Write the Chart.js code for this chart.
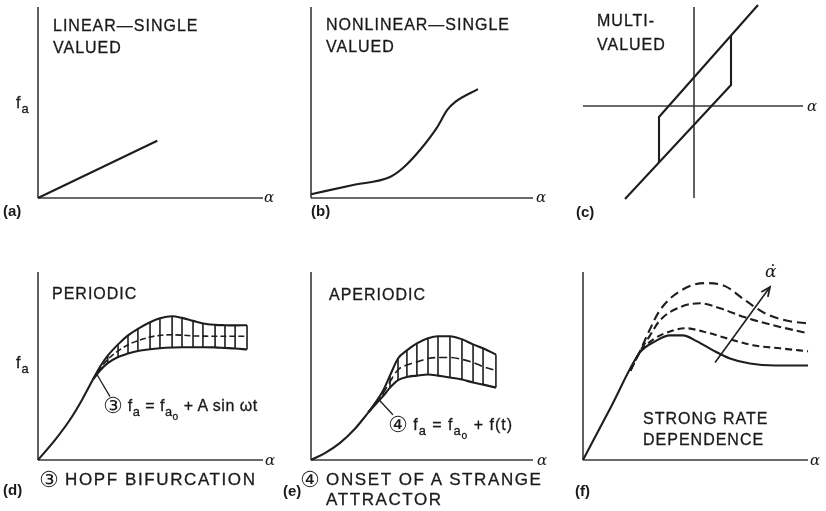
<!DOCTYPE html>
<html>
<head>
<meta charset="utf-8">
<script src="https://cdn.jsdelivr.net/npm/chart.js@4.4.1/dist/chart.umd.min.js"></script>
<style>
  html, body { margin: 0; padding: 0; background: #fff; }
  #fig { position: relative; width: 826px; height: 511px; overflow: hidden; background: #fff; }
  .panel { position: absolute; }
  .lbl { position: absolute; font-family: "Liberation Sans", Arial, sans-serif; font-size: 16px; line-height: 18px;
         color: #1a1a1a; letter-spacing: 1px; white-space: nowrap; -webkit-text-stroke: 0.3px #1a1a1a; }
  .cap { font-size: 17px; letter-spacing: 1.6px; }
  .eq { letter-spacing: 0.5px; }
  .tag { font-weight: bold; font-size: 15px; letter-spacing: 0; -webkit-text-stroke: 0; }
  .al { font-family: "DejaVu Serif", serif; font-style: italic; font-size: 15px; letter-spacing: 0; -webkit-text-stroke: 0; }
  .num { font-family: "DejaVu Sans", sans-serif; font-size: 22px; letter-spacing: 0; -webkit-text-stroke: 0; vertical-align: -2px; }
  sub { font-size: 0.8em; vertical-align: -0.4em; line-height: 0; }
</style>
</head>
<body>
<div id="fig">
  <!-- top row -->
  <div class="lbl" style="left:53px;top:17px">LINEAR—SINGLE</div>
  <div class="lbl" style="left:53px;top:39px">VALUED</div>
  <div class="lbl" style="left:16px;top:94px">f<sub>a</sub></div>
  <div class="lbl al" style="left:264px;top:188px">α</div>
  <div class="lbl tag" style="left:3px;top:202px">(a)</div>

  <div class="lbl" style="left:326px;top:16px">NONLINEAR—SINGLE</div>
  <div class="lbl" style="left:326px;top:38px">VALUED</div>
  <div class="lbl al" style="left:536px;top:188px">α</div>
  <div class="lbl tag" style="left:311px;top:202px">(b)</div>

  <div class="lbl" style="left:597px;top:12px">MULTI-</div>
  <div class="lbl" style="left:597px;top:36px">VALUED</div>
  <div class="lbl al" style="left:807px;top:97px">α</div>
  <div class="lbl tag" style="left:576px;top:203px">(c)</div>

  <!-- bottom row -->
  <div class="lbl" style="left:52px;top:285px">PERIODIC</div>
  <div class="lbl" style="left:16px;top:354px">f<sub>a</sub></div>
  <div class="lbl eq" style="left:103px;top:397px"><span class="num">③</span>&nbsp;f<sub>a</sub> = f<sub>a<sub>o</sub></sub> + A sin ωt</div>
  <div class="lbl al" style="left:265px;top:451px">α</div>
  <div class="lbl cap" style="left:39px;top:471px"><span class="num">③</span>&nbsp;HOPF BIFURCATION</div>
  <div class="lbl tag" style="left:3px;top:481px">(d)</div>

  <div class="lbl" style="left:329px;top:286px">APERIODIC</div>
  <div class="lbl" style="left:388px;top:416px"><span class="num">④</span>&nbsp;f<sub>a</sub> = f<sub>a<sub>o</sub></sub> + f(t)</div>
  <div class="lbl al" style="left:537px;top:451px">α</div>
  <div class="lbl cap" style="left:300px;top:471px"><span class="num">④</span>&nbsp;ONSET OF A STRANGE</div>
  <div class="lbl cap" style="left:326px;top:491px">ATTRACTOR</div>
  <div class="lbl tag" style="left:283px;top:482px">(e)</div>

  <div class="lbl al" style="left:765px;top:262px;font-size:17px">α̇</div>
  <div class="lbl" style="left:643px;top:410px">STRONG RATE</div>
  <div class="lbl" style="left:643px;top:431px">DEPENDENCE</div>
  <div class="lbl al" style="left:810px;top:451px">α</div>
  <div class="lbl tag" style="left:575px;top:482px">(f)</div>
</div>

<script>
// ─── data (arbitrary units, 0–100 per axis) ───

// (a) linear, single valued
const aX = [0, 53];
const aY = [0, 30];

// (b) nonlinear, single valued
const bX = [0, 19, 35.6, 41.4, 49, 56.8, 61.3, 65, 75.2];
const bY = [2, 6.8, 11, 15.7, 25, 37, 46, 50.3, 57];

// (c) multi-valued hysteresis loop (axes cross at 0,0)
const cLowX = [-6.9, 3.7, 3.7];
const cLowY = [-9.3, 2.1, 7.0];
const cUpX = [6.4, -3.5, -3.5];
const cUpY = [10.1, -1.1, -5.6];

// (d) periodic
const dRiseX = [0, 7.6, 14.2, 19.6, 24.4];
const dRiseY = [0, 10.7, 21.4, 32.1, 42.8];
const dMeshX = [24.4, 27.5, 31, 35.6, 40, 44.4, 49.8, 54.2, 59.6, 64, 68.9, 73.3, 78.7, 83.1, 87.6, 92.9];
const dUpper = [42.8, 49.5, 55.5, 61.5, 66.3, 69.8, 73.3, 75.4, 76.5, 75.6, 74, 72.6, 71.9, 71.7, 71.6, 71.7];
const dLower = [42.8, 47.5, 51.5, 54.8, 56.6, 58, 58.9, 59.4, 59.8, 60, 60, 60, 59.9, 59.6, 59.3, 58.8];
const dMid   = [42.8, 48.5, 53.5, 58, 61.3, 63.5, 65.4, 66.3, 66.6, 66.4, 66, 65.9, 65.8, 65.8, 65.8, 65.8];
const dLeadX = [26.2, 32];
const dLeadY = [45.5, 33.7];

// (e) aperiodic
const eRiseX = [0, 6.3, 13.1, 19.8, 25.7];
const eRiseY = [0, 3.7, 9.1, 16.6, 25.1];
const eMeshX = [25.7, 29, 32.5, 35.6, 39.2, 43.2, 47.7, 52.7, 57.2, 62.6, 68, 73, 77.5, 83.3];
const eUpper = [25.1, 30.5, 37, 45, 54, 58.3, 62, 64.7, 65.8, 65.8, 64.2, 61.5, 59.4, 56.1];
const eLower = [25.1, 29.5, 34, 38.5, 42.5, 44.2, 44.9, 45.5, 44.9, 43.9, 42.8, 41.2, 40.1, 38.5];
const eMid   = [25.1, 30, 35.5, 41.7, 48, 50.5, 52.2, 54, 54.5, 54.5, 53.5, 51.9, 49.7, 47.6];
const eLeadX = [30.2, 36.9];
const eLeadY = [32.6, 24.1];

// (f) strong rate dependence: solid = slowest, dashed = faster alpha-dot
const fSolidX = [0, 12.6, 25.3, 32, 38.7, 44.4, 50.7, 57.8, 65.3, 74.2, 85.3, 100];
const fSolidY = [0, 28.6, 57.2, 63.1, 66.3, 66.3, 63.1, 58.3, 54, 51.3, 50.3, 50.3];
const fDash1X = [21, 25.3, 32, 38.7, 45.3, 53.3, 64, 75.6, 87.6, 100];
const fDash1Y = [47.5, 57.4, 64.7, 68.4, 70.1, 68.4, 64.7, 61, 59.4, 57.8];
const fDash2X = [21, 25.3, 29.8, 34.2, 43.1, 52, 60.9, 72, 84.4, 100];
const fDash2Y = [47.5, 57.6, 66.3, 74.3, 81.3, 83.4, 80.7, 75.9, 71.7, 67.4];
const fDash3X = [21, 25.3, 28.9, 34.2, 43.1, 54.2, 63.1, 72, 81.8, 92, 100];
const fDash3Y = [47.5, 57.8, 67.4, 79.7, 89.8, 94.1, 92.5, 85, 77.5, 73.8, 72.7];
const fArrowX = [58.7, 83.1];
const fArrowY = [51.9, 92];

const INK = '#1e1e1e';
const AXIS = '#3a3a3a';

// ─── helpers ───
const pts = (xs, ys) => xs.map((x, i) => ({ x, y: ys[i] }));

function curve(xs, ys, extra) {
    return Object.assign({
        data: pts(xs, ys),
        showLine: true,
        borderColor: INK,
        borderWidth: 2.1,
        pointRadius: 0,
        cubicInterpolationMode: 'monotone',
        clip: false
    }, extra);
}

function straight(xs, ys, extra) {
    return curve(xs, ys, Object.assign({ cubicInterpolationMode: 'default', tension: 0 }, extra));
}

// vertical hatch bars of the oscillation band, one per sampled station
function hatch(xs, top, bot, from) {
    const data = [];
    for (let i = from; i < xs.length; i++) {
        data.push({ x: xs[i], y: top[i] }, { x: xs[i], y: bot[i] }, { x: NaN, y: NaN });
    }
    return {
        data, showLine: true, spanGaps: false, borderColor: INK, borderWidth: 1.6,
        pointRadius: 0, tension: 0, clip: false
    };
}

// axes drawn through the chart's own scales
const axesLines = {
    id: 'axesLines',
    beforeDatasetsDraw(chart, args, opts) {
        if (!opts || !opts.origin) return;
        const { x, y } = chart.scales;
        const ctx = chart.ctx;
        const ox = x.getPixelForValue(opts.origin[0]);
        const oy = y.getPixelForValue(opts.origin[1]);
        ctx.save();
        ctx.strokeStyle = AXIS;
        ctx.lineWidth = 1.6;
        ctx.beginPath();
        ctx.moveTo(x.getPixelForValue(x.min), oy);
        ctx.lineTo(x.getPixelForValue(x.max), oy);
        ctx.moveTo(ox, y.getPixelForValue(y.min));
        ctx.lineTo(ox, y.getPixelForValue(y.max));
        ctx.stroke();
        ctx.restore();
    }
};

// open arrowhead at the end of datasets flagged with arrowHead
const arrowHeads = {
    id: 'arrowHeads',
    afterDatasetsDraw(chart) {
        const ctx = chart.ctx;
        chart.data.datasets.forEach((ds, i) => {
            if (!ds.arrowHead) return;
            const el = chart.getDatasetMeta(i).data;
            const a = el[el.length - 2], b = el[el.length - 1];
            const ang = Math.atan2(b.y - a.y, b.x - a.x);
            const len = 10, spread = 0.42;
            ctx.save();
            ctx.strokeStyle = INK;
            ctx.lineWidth = 1.8;
            ctx.beginPath();
            ctx.moveTo(b.x - len * Math.cos(ang - spread), b.y - len * Math.sin(ang - spread));
            ctx.lineTo(b.x, b.y);
            ctx.lineTo(b.x - len * Math.cos(ang + spread), b.y - len * Math.sin(ang + spread));
            ctx.stroke();
            ctx.restore();
        });
    }
};

Chart.register(axesLines, arrowHeads);

const fig = document.getElementById('fig');

// box = page pixels of the plotting area [left, top, right, bottom]
function makePanel(id, box, xRange, yRange, origin, datasets) {
    const pad = 16;
    const wrap = document.createElement('div');
    wrap.className = 'panel';
    wrap.style.left = (box[0] - pad) + 'px';
    wrap.style.top = (box[1] - pad) + 'px';
    const cv = document.createElement('canvas');
    cv.id = id;
    cv.width = box[2] - box[0] + 2 * pad;
    cv.height = box[3] - box[1] + 2 * pad;
    wrap.appendChild(cv);
    fig.insertBefore(wrap, fig.firstChild);

    new Chart(cv, {
        type: 'scatter',
        data: { datasets },
        options: {
            responsive: false,
            animation: false,
            events: [],
            layout: { padding: pad },
            scales: {
                x: { type: 'linear', display: false, min: xRange[0], max: xRange[1] },
                y: { type: 'linear', display: false, min: yRange[0], max: yRange[1] }
            },
            plugins: {
                legend: { display: false },
                tooltip: { enabled: false },
                axesLines: { origin }
            }
        }
    });
}

// ─── panels ───
makePanel('chartA', [38, 7, 263, 198], [0, 100], [0, 100], [0, 0], [
    straight(aX, aY)
]);

makePanel('chartB', [311, 7, 533, 198], [0, 100], [0, 100], [0, 0], [
    curve(bX, bY)
]);

makePanel('chartC', [583, 7, 803, 198], [-11.1, 10.9], [-9.2, 9.9], [0, 0], [
    straight(cLowX, cLowY),
    straight(cUpX, cUpY)
]);

makePanel('chartD', [38, 272, 263, 460], [0, 100], [0, 100], [0, 0], [
    curve(dRiseX, dRiseY),
    curve(dMeshX, dUpper),
    curve(dMeshX, dLower),
    curve(dMeshX, dMid, { borderWidth: 1.6, borderDash: [6, 3] }),
    hatch(dMeshX, dUpper, dLower, 1),
    straight(dLeadX, dLeadY, { borderWidth: 1.3 })
]);

makePanel('chartE', [311, 272, 533, 460], [0, 100], [0, 100], [0, 0], [
    curve(eRiseX, eRiseY),
    curve(eMeshX, eUpper),
    curve(eMeshX, eLower),
    curve(eMeshX, eMid, { borderWidth: 1.6, borderDash: [8, 4] }),
    hatch(eMeshX, eUpper, eLower, 1),
    straight(eLeadX, eLeadY, { borderWidth: 1.3 })
]);

makePanel('chartF', [583, 272, 808, 460], [0, 100], [0, 100], [0, 0], [
    curve(fSolidX, fSolidY),
    curve(fDash1X, fDash1Y, { borderDash: [7, 4] }),
    curve(fDash2X, fDash2Y, { borderDash: [8, 4] }),
    curve(fDash3X, fDash3Y, { borderDash: [9, 5] }),
    straight(fArrowX, fArrowY, { borderWidth: 1.6, arrowHead: true })
]);
</script>
</body>
</html>
